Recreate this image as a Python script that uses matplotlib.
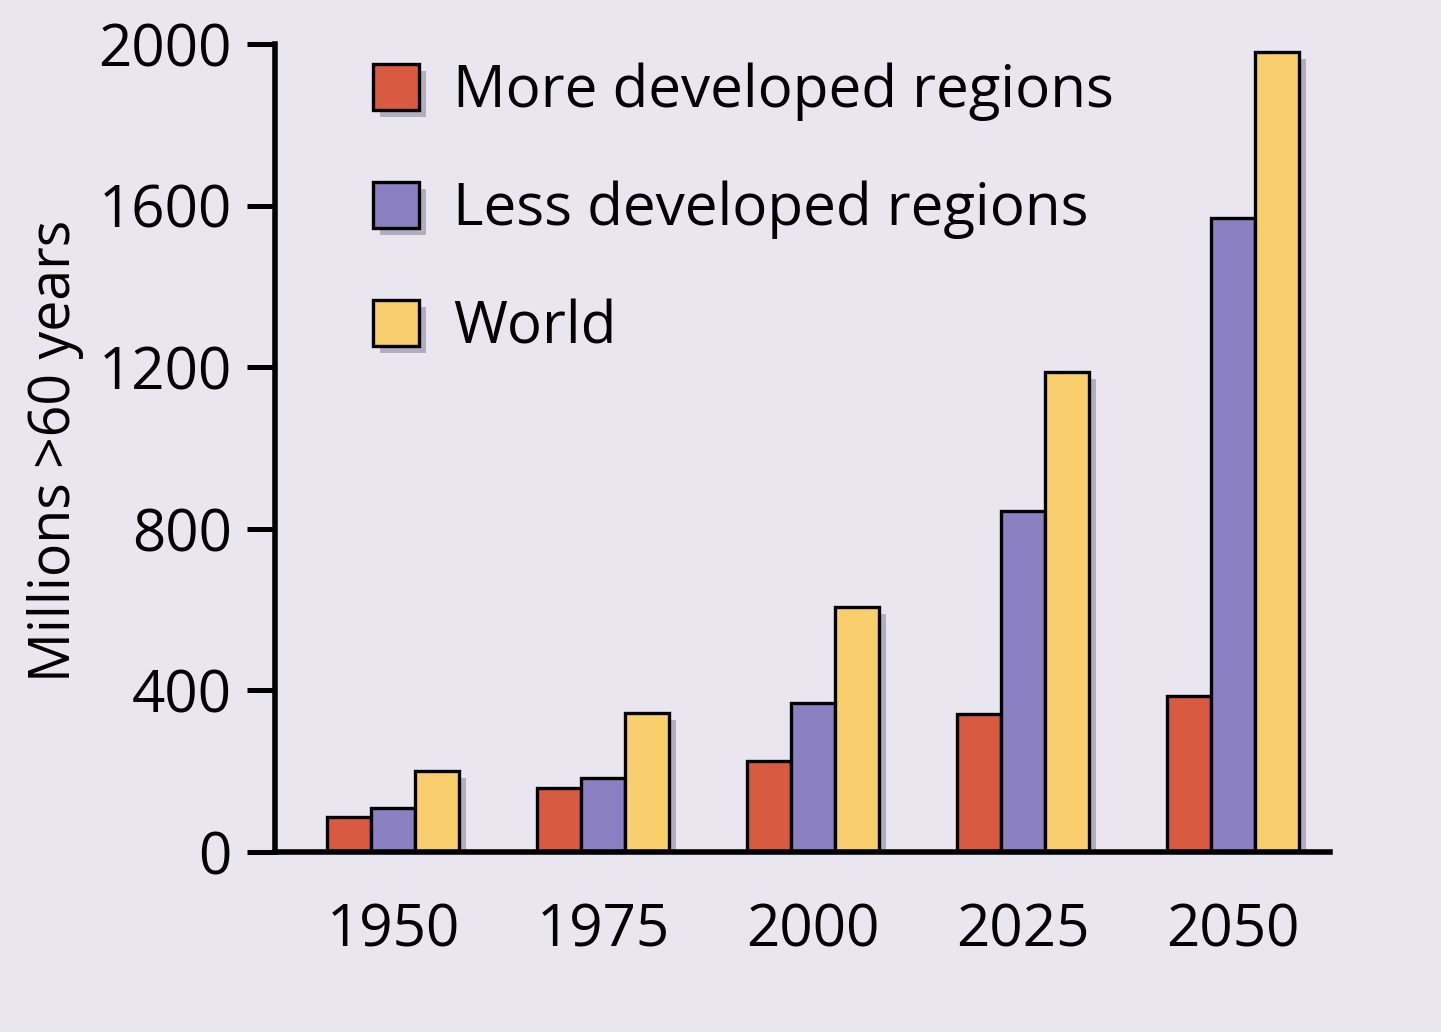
import numpy as np
import matplotlib.pyplot as plt
import matplotlib.patheffects as pe

# Population over 60 (millions)
years = ['1950', '1975', '2000', '2025', '2050']
more_developed = [87, 158, 225, 342, 386]
less_developed = [109, 183, 369, 844, 1569]
world = [200, 344, 606, 1188, 1980]

series_names = ['More developed regions', 'Less developed regions', 'World']
series_colors = ['#d85a40', '#8a80c2', '#f9ce6c']

plt.rcParams['font.family'] = ['Open Sans', 'DejaVu Sans']

bg = '#e9e6f0'
fig = plt.figure(figsize=(14.41, 10.32), dpi=100, facecolor=bg)
ax = fig.add_axes([0.1908, 0.1744, 0.732, 0.7829], facecolor=bg)

x = np.arange(len(years))
width = 0.21
shadow = [pe.SimplePatchShadow(offset=(5, -5), shadow_rgbFace='#5e5a78', alpha=0.4),
          pe.Normal()]

for i, (vals, name, col) in enumerate(zip([more_developed, less_developed, world],
                                          series_names, series_colors)):
    bars = ax.bar(x + (i - 1) * width, vals, width, color=col, edgecolor='black',
                  linewidth=2.4, label=name, zorder=3)
    for b in bars:
        b.set_path_effects(shadow)

ax.set_xlim(-0.562, 4.46)
ax.set_ylim(0, 2000)
ax.set_yticks([0, 400, 800, 1200, 1600, 2000])
ax.set_xticks(x)
ax.set_xticklabels(years)
ax.tick_params(axis='y', direction='out', length=20, width=3.6, labelsize=42, pad=11)
ax.tick_params(axis='x', length=0, labelsize=42, pad=36)

# y label placed by hand to match the reference
ax.text(-0.208, 0.497, 'Millions >60 years', transform=ax.transAxes, rotation=90,
        ha='center', va='center', fontsize=40)

for side in ['top', 'right']:
    ax.spines[side].set_visible(False)
ax.spines['left'].set_linewidth(4)
ax.spines['bottom'].set_linewidth(4)
ax.spines['bottom'].set_zorder(4)

leg = ax.legend(loc='upper left', bbox_to_anchor=(0.071, 1.006), frameon=False,
                borderaxespad=0, fontsize=42, handlelength=0.79, handleheight=0.84,
                handletextpad=0.58, labelspacing=1.02)

fig.savefig('out.png', dpi=100, facecolor=bg)
